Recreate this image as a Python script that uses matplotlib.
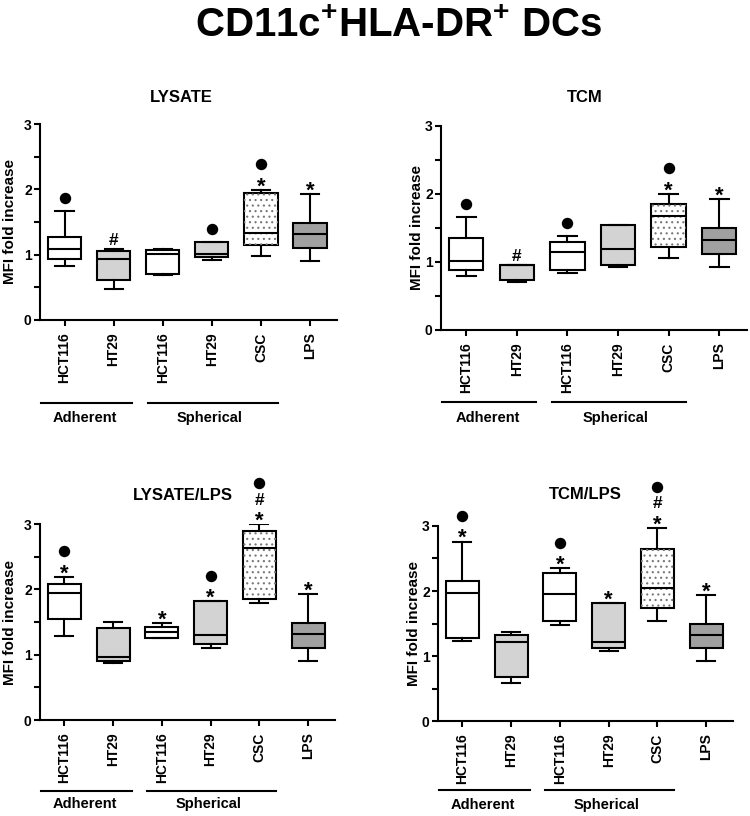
import matplotlib
matplotlib.use("Agg")
import matplotlib.pyplot as plt
import matplotlib.transforms as mtransforms
from matplotlib.patches import PathPatch
from matplotlib.ticker import MultipleLocator, FixedLocator

plt.rcParams['font.family'] = ['Liberation Sans', 'DejaVu Sans']
plt.rcParams['font.weight'] = 'bold'
plt.rcParams['mathtext.fontset'] = 'custom'
plt.rcParams['mathtext.rm'] = 'Liberation Sans:bold'
plt.rcParams['mathtext.bf'] = 'Liberation Sans:bold'
plt.rcParams['mathtext.it'] = 'Liberation Sans:bold'
plt.rcParams['mathtext.default'] = 'regular'
plt.rcParams['hatch.linewidth'] = 0.8

# ---------------- data ----------------
categories = ["HCT116", "HT29", "HCT116", "HT29", "CSC", "LPS"]
groups = ["Adherent", "Spherical"]
fills = ["white", "#d3d3d3", "white", "#d3d3d3", "dots", "#a0a0a0"]

lysate_lo  = [0.83, 0.48, 0.68, 0.92, 0.98, 0.90]
lysate_q1  = [0.93, 0.61, 0.71, 0.97, 1.14, 1.10]
lysate_med = [1.08, 0.94, 1.01, 1.01, 1.33, 1.32]
lysate_q3  = [1.27, 1.06, 1.07, 1.19, 1.94, 1.48]
lysate_hi  = [1.67, 1.08, 1.08, 1.19, 1.99, 1.93]
lysate_marks = ["●", "#", "", "●", "*●", "*"]

tcm_lo  = [0.79, 0.71, 0.84, 0.92, 1.06, 0.93]
tcm_q1  = [0.88, 0.73, 0.88, 0.96, 1.22, 1.12]
tcm_med = [1.02, 0.95, 1.15, 1.19, 1.68, 1.33]
tcm_q3  = [1.36, 0.96, 1.30, 1.55, 1.86, 1.50]
tcm_hi  = [1.66, 0.96, 1.38, 1.55, 2.00, 1.93]
tcm_marks = ["●", "#", "●", "", "*●", "*"]

lyslps_lo  = [1.28, 0.88, 1.25, 1.11, 1.79, 0.90]
lyslps_q1  = [1.54, 0.91, 1.25, 1.17, 1.85, 1.10]
lyslps_med = [1.94, 0.97, 1.34, 1.30, 2.63, 1.31]
lyslps_q3  = [2.08, 1.41, 1.42, 1.82, 2.90, 1.48]
lyslps_hi  = [2.19, 1.50, 1.48, 1.82, 3.00, 1.93]
lyslps_marks = ["*●", "", "*", "*●", "*#●", "*"]

tcmlps_lo  = [1.23, 0.58, 1.47, 1.08, 1.54, 0.92]
tcmlps_q1  = [1.27, 0.67, 1.54, 1.13, 1.74, 1.12]
tcmlps_med = [1.97, 1.22, 1.96, 1.21, 2.05, 1.32]
tcmlps_q3  = [2.16, 1.32, 2.28, 1.81, 2.64, 1.49]
tcmlps_hi  = [2.76, 1.37, 2.35, 1.81, 2.97, 1.94]
tcmlps_marks = ["*●", "", "*●", "*", "*#●", "*"]

panels = [
    dict(title="LYSATE", lo=lysate_lo, q1=lysate_q1, med=lysate_med, q3=lysate_q3, hi=lysate_hi,
         marks=lysate_marks, rect=[0.0533, 0.608, 0.396, 0.240], tx=0.475, ty=1.138,
         ylab=-0.077, gline=-0.423, gtext=-0.50),
    dict(title="TCM", lo=tcm_lo, q1=tcm_q1, med=tcm_med, q3=tcm_q3, hi=tcm_hi,
         marks=tcm_marks, rect=[0.588, 0.5956, 0.408, 0.250], tx=0.47, ty=1.14,
         ylab=-0.056, gline=-0.355, gtext=-0.43),
    dict(title="LYSATE/LPS", lo=lyslps_lo, q1=lyslps_q1, med=lyslps_med, q3=lyslps_q3, hi=lyslps_hi,
         marks=lyslps_marks, rect=[0.0533, 0.1176, 0.3933, 0.2402], tx=0.485, ty=1.148,
         ylab=-0.077, gline=-0.362, gtext=-0.43),
    dict(title="TCM/LPS", lo=tcmlps_lo, q1=tcmlps_q1, med=tcmlps_med, q3=tcmlps_q3, hi=tcmlps_hi,
         marks=tcmlps_marks, rect=[0.584, 0.1164, 0.3933, 0.239], tx=0.50, ty=1.16,
         ylab=-0.056, gline=-0.354, gtext=-0.43),
]

fig = plt.figure(figsize=(7.5, 8.16), dpi=100)
fig.text(0.532, 1 - 37 / 816, r"CD11c$^{+}$HLA-DR$^{+}$ DCs", ha='center', va='baseline',
         fontsize=29, fontweight='bold')

LW = 1.5
pos = list(range(len(categories)))

for p in panels:
    ax = fig.add_axes(p["rect"])
    stats = []
    for i in range(len(categories)):
        stats.append(dict(whislo=p["lo"][i], q1=p["q1"][i], med=p["med"][i],
                          q3=p["q3"][i], whishi=p["hi"][i], fliers=[]))
    bp = ax.bxp(stats, positions=pos, widths=0.68, capwidths=0.37, patch_artist=True,
                showfliers=False,
                boxprops=dict(linewidth=LW, edgecolor='black'),
                whiskerprops=dict(linewidth=LW, color='black'),
                capprops=dict(linewidth=LW, color='black'),
                medianprops=dict(linewidth=LW, color='black'))
    for box, f in zip(bp['boxes'], fills):
        if f == "dots":
            box.set_facecolor('white')
            ov = PathPatch(box.get_path(), transform=box.get_transform(), facecolor='none',
                           edgecolor='#777777', hatch='...', linewidth=0, zorder=2.01)
            ax.add_patch(ov)
        else:
            box.set_facecolor(f)
    for m in bp['medians']:
        m.set_zorder(3)

    # significance marks stacked above whisker top
    for i, s in enumerate(p["marks"]):
        for k, ch in enumerate(s):
            center_px = 10 + 15.5 * k
            if ch == "●" and k == 0:
                center_px = 13
            if ch == "●":
                tr = mtransforms.offset_copy(ax.transData, fig=fig, x=0, y=center_px * 0.72, units='points')
                ax.plot([pos[i]], [p["hi"][i]], marker='o', markersize=7.2, color='black',
                        transform=tr, clip_on=False)
            elif ch == "*":
                tr = mtransforms.offset_copy(ax.transData, fig=fig, x=0, y=(center_px - 12.5) * 0.72, units='points')
                ax.text(pos[i], p["hi"][i], "*", ha='center', va='baseline', fontsize=16,
                        fontweight='bold', transform=tr, clip_on=False)
            elif ch == "#":
                tr = mtransforms.offset_copy(ax.transData, fig=fig, x=0, y=(center_px - 6) * 0.72, units='points')
                ax.text(pos[i], p["hi"][i], "#", ha='center', va='baseline', fontsize=12.5,
                        fontweight='bold', transform=tr, clip_on=False)

    ax.set_xlim(-0.5, 5.55)
    ax.set_ylim(0, 3)
    ax.spines['top'].set_visible(False)
    ax.spines['right'].set_visible(False)
    ax.spines['left'].set_linewidth(LW)
    ax.spines['bottom'].set_linewidth(LW)
    ax.yaxis.set_major_locator(FixedLocator([0, 1, 2, 3]))
    ax.yaxis.set_minor_locator(MultipleLocator(0.5))
    ax.tick_params(axis='both', which='both', direction='out', length=4, width=LW)
    ax.tick_params(axis='x', which='minor', bottom=False)
    ax.tick_params(axis='y', labelsize=10, pad=2)
    ax.tick_params(axis='x', labelsize=10, pad=5)
    ax.set_xticks(pos)
    ax.set_xticklabels(categories, rotation=90, fontweight='bold')
    for lab in ax.get_yticklabels():
        lab.set_fontweight('bold')
    ax.set_ylabel("MFI fold increase", fontsize=11, fontweight='bold')
    ax.yaxis.set_label_coords(p["ylab"], 0.5)

    ax.text(p["tx"], p["ty"], p["title"], transform=ax.transAxes, ha='center', va='center',
            fontsize=12, fontweight='bold')

    trb = mtransforms.blended_transform_factory(ax.transData, ax.transAxes)
    ax.plot([-0.48, 1.38], [p["gline"], p["gline"]], color='black', lw=LW, transform=trb, clip_on=False)
    ax.plot([1.70, 4.35], [p["gline"], p["gline"]], color='black', lw=LW, transform=trb, clip_on=False)
    ax.text(0.42, p["gtext"], groups[0], transform=trb, ha='center', va='center',
            fontsize=10.5, fontweight='bold')
    ax.text(2.95, p["gtext"], groups[1], transform=trb, ha='center', va='center',
            fontsize=10.5, fontweight='bold')

fig.savefig("out.png", dpi=100)
